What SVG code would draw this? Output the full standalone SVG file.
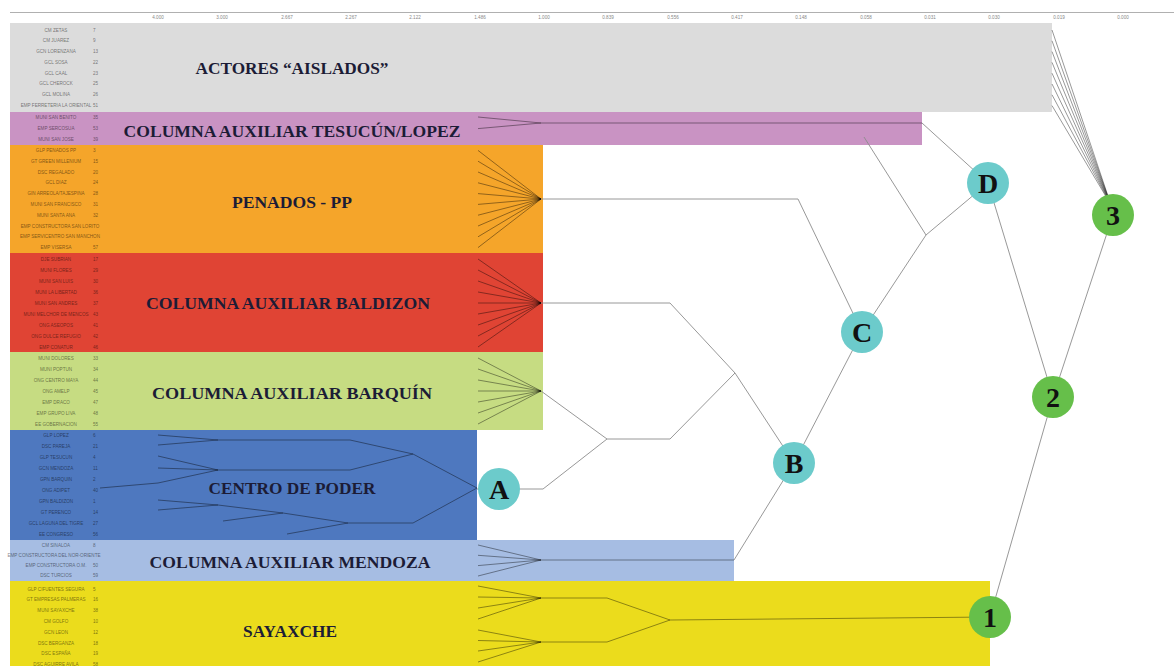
<svg xmlns="http://www.w3.org/2000/svg" width="1174" height="666" viewBox="0 0 1174 666">
<style>
.lbl{font-family:"Liberation Sans",Arial,sans-serif;font-size:4.6px;fill:#000;fill-opacity:0.5;text-anchor:middle}
.num{font-family:"Liberation Sans",Arial,sans-serif;font-size:4.6px;fill:#000;fill-opacity:0.5}
.tick{font-family:"Liberation Sans",Arial,sans-serif;font-size:4.6px;fill:#888;text-anchor:middle}
.title{font-family:"Liberation Serif","Times New Roman",serif;font-size:17px;font-weight:bold;fill:#1c1c36;text-anchor:middle}
.fan{stroke:#000;stroke-opacity:0.45;stroke-width:0.9;fill:none}
.con{stroke:#8c8c8c;stroke-width:0.9;fill:none}
.teal{fill:#6ccbcb}
.grn{fill:#66bf4a}
.let{font-family:"Liberation Serif","Times New Roman",serif;font-size:28px;font-weight:bold;fill:#111;text-anchor:middle}
</style>
<rect width="1174" height="666" fill="#fff"/>
<!-- axis -->
<g id="axis">
<line x1="10" y1="12.5" x2="1174" y2="12.5" stroke="#b0b0b0" stroke-width="1"/>
<text class="tick" x="158" y="19">4.000</text>
<text class="tick" x="222" y="19">3.000</text>
<text class="tick" x="287" y="19">2.667</text>
<text class="tick" x="351" y="19">2.267</text>
<text class="tick" x="415" y="19">2.122</text>
<text class="tick" x="480" y="19">1.486</text>
<text class="tick" x="544" y="19">1.000</text>
<text class="tick" x="608" y="19">0.839</text>
<text class="tick" x="673" y="19">0.556</text>
<text class="tick" x="737" y="19">0.417</text>
<text class="tick" x="801" y="19">0.148</text>
<text class="tick" x="866" y="19">0.058</text>
<text class="tick" x="930" y="19">0.031</text>
<text class="tick" x="994" y="19">0.030</text>
<text class="tick" x="1059" y="19">0.019</text>
<text class="tick" x="1123" y="19">0.000</text>
</g>
<!-- bands -->
<g id="band-aislados">
<rect x="10" y="23" width="1042" height="89" fill="#dcdcdc"/>
<text class="title" x="292" y="74" textLength="193" lengthAdjust="spacingAndGlyphs">ACTORES “AISLADOS”</text>
<text class="lbl" x="56" y="31.5">CM ZETAS</text><text class="num" x="93" y="31.5">7</text>
<text class="lbl" x="56" y="42.3">CM JUAREZ</text><text class="num" x="93" y="42.3">9</text>
<text class="lbl" x="56" y="53">GCN LORENZANA</text><text class="num" x="93" y="53">13</text>
<text class="lbl" x="56" y="63.8">GCL SOSA</text><text class="num" x="93" y="63.8">22</text>
<text class="lbl" x="56" y="74.5">GCL CAAL</text><text class="num" x="93" y="74.5">23</text>
<text class="lbl" x="56" y="85.3">GCL CHEROCK</text><text class="num" x="93" y="85.3">25</text>
<text class="lbl" x="56" y="96">GCL MOLINA</text><text class="num" x="93" y="96">26</text>
<text class="lbl" x="56" y="106.8">EMP FERRETERIA LA ORIENTAL</text><text class="num" x="93" y="106.8">51</text>
</g>
<g id="band-tesucun">
<rect x="10" y="112" width="912" height="33" fill="#c993c3"/>
<text class="title" x="292" y="137" textLength="337" lengthAdjust="spacingAndGlyphs">COLUMNA AUXILIAR TESUCÚN/LOPEZ</text>
<text class="lbl" x="56" y="119">MUNI SAN BENITO</text><text class="num" x="93" y="119">35</text>
<text class="lbl" x="56" y="130">EMP SERCOSUA</text><text class="num" x="93" y="130">53</text>
<text class="lbl" x="56" y="141">MUNI SAN JOSE</text><text class="num" x="93" y="141">39</text>
</g>
<g id="band-penados">
<rect x="10" y="145" width="533" height="108" fill="#f5a52a"/>
<text class="title" x="292" y="208" textLength="120" lengthAdjust="spacingAndGlyphs">PENADOS - PP</text>
<text class="lbl" x="56" y="152">GLP PENADOS PP</text><text class="num" x="93" y="152">3</text>
<text class="lbl" x="56" y="162.8">GT GREEN MILLENIUM</text><text class="num" x="93" y="162.8">15</text>
<text class="lbl" x="56" y="173.6">DSC REGALADO</text><text class="num" x="93" y="173.6">20</text>
<text class="lbl" x="56" y="184.4">GCL DIAZ</text><text class="num" x="93" y="184.4">24</text>
<text class="lbl" x="56" y="195.2">GIN ARREOLA/TAJESPINA</text><text class="num" x="93" y="195.2">28</text>
<text class="lbl" x="56" y="206">MUNI SAN FRANCISCO</text><text class="num" x="93" y="206">31</text>
<text class="lbl" x="56" y="216.8">MUNI SANTA ANA</text><text class="num" x="93" y="216.8">32</text>
<text class="lbl" x="60" y="227.6">EMP CONSTRUCTORA SAN LORITO</text>
<text class="lbl" x="60" y="238.4">EMP SERVICENTRO SAN MANCHON</text>
<text class="lbl" x="56" y="249.2">EMP VISERSA</text><text class="num" x="93" y="249.2">57</text>
</g>
<g id="band-baldizon">
<rect x="10" y="253" width="533" height="99" fill="#e04434"/>
<text class="title" x="288" y="309" textLength="284" lengthAdjust="spacingAndGlyphs">COLUMNA AUXILIAR BALDIZON</text>
<text class="lbl" x="56" y="260.5">DJE SUBRIAN</text><text class="num" x="93" y="260.5">17</text>
<text class="lbl" x="56" y="271.5">MUNI FLORES</text><text class="num" x="93" y="271.5">29</text>
<text class="lbl" x="56" y="282.5">MUNI SAN LUIS</text><text class="num" x="93" y="282.5">30</text>
<text class="lbl" x="56" y="293.5">MUNI LA LIBERTAD</text><text class="num" x="93" y="293.5">36</text>
<text class="lbl" x="56" y="304.5">MUNI SAN ANDRES</text><text class="num" x="93" y="304.5">37</text>
<text class="lbl" x="56" y="315.5">MUNI MELCHOR DE MENCOS</text><text class="num" x="93" y="315.5">43</text>
<text class="lbl" x="56" y="326.5">ONG ASEOPOS</text><text class="num" x="93" y="326.5">41</text>
<text class="lbl" x="56" y="337.5">ONG DULCE REFUGIO</text><text class="num" x="93" y="337.5">42</text>
<text class="lbl" x="56" y="348.5">EMP CONATUR</text><text class="num" x="93" y="348.5">46</text>
</g>
<g id="band-barquin">
<rect x="10" y="352" width="533" height="78" fill="#c6dc82"/>
<text class="title" x="292" y="399" textLength="280" lengthAdjust="spacingAndGlyphs">COLUMNA AUXILIAR BARQUÍN</text>
<text class="lbl" x="56" y="359.5">MUNI DOLORES</text><text class="num" x="93" y="359.5">33</text>
<text class="lbl" x="56" y="370.5">MUNI POPTUN</text><text class="num" x="93" y="370.5">34</text>
<text class="lbl" x="56" y="381.5">ONG CENTRO MAYA</text><text class="num" x="93" y="381.5">44</text>
<text class="lbl" x="56" y="392.5">ONG AMELP</text><text class="num" x="93" y="392.5">45</text>
<text class="lbl" x="56" y="403.5">EMP DRACO</text><text class="num" x="93" y="403.5">47</text>
<text class="lbl" x="56" y="414.5">EMP GRUPO LIVA</text><text class="num" x="93" y="414.5">48</text>
<text class="lbl" x="56" y="425.5">EE GOBERNACION</text><text class="num" x="93" y="425.5">55</text>
</g>
<g id="band-centro">
<rect x="10" y="430" width="467" height="110" fill="#4e78bf"/>
<text class="title" x="292" y="494" textLength="167" lengthAdjust="spacingAndGlyphs">CENTRO DE PODER</text>
<text class="lbl" x="56" y="436.5">GLP LOPEZ</text><text class="num" x="93" y="436.5">6</text>
<text class="lbl" x="56" y="447.5">DSC PAREJA</text><text class="num" x="93" y="447.5">21</text>
<text class="lbl" x="56" y="458.5">GLP TESUCUN</text><text class="num" x="93" y="458.5">4</text>
<text class="lbl" x="56" y="469.5">GCN MENDOZA</text><text class="num" x="93" y="469.5">11</text>
<text class="lbl" x="56" y="480.5">GPN BARQUIN</text><text class="num" x="93" y="480.5">2</text>
<text class="lbl" x="56" y="491.5">ONG ADIPET</text><text class="num" x="93" y="491.5">40</text>
<text class="lbl" x="56" y="502.5">GPN BALDIZON</text><text class="num" x="93" y="502.5">1</text>
<text class="lbl" x="56" y="513.5">GT PERENCO</text><text class="num" x="93" y="513.5">14</text>
<text class="lbl" x="56" y="524.5">GCL LAGUNA DEL TIGRE</text><text class="num" x="93" y="524.5">27</text>
<text class="lbl" x="56" y="535.5">EE CONGRESO</text><text class="num" x="93" y="535.5">56</text>
</g>
<g id="band-mendoza">
<rect x="10" y="540" width="724" height="41" fill="#a6bde3"/>
<text class="title" x="290" y="568" textLength="281" lengthAdjust="spacingAndGlyphs">COLUMNA AUXILIAR MENDOZA</text>
<text class="lbl" x="56" y="546.5">CM SINALOA</text><text class="num" x="93" y="546.5">8</text>
<text class="lbl" x="54" y="556.8">EMP CONSTRUCTORA DEL NOR-ORIENTE</text>
<text class="lbl" x="56" y="567.1">EMP CONSTRUCTORA O.M.</text><text class="num" x="93" y="567.1">50</text>
<text class="lbl" x="56" y="577.4">DSC TURCIOS</text><text class="num" x="93" y="577.4">59</text>
</g>
<g id="band-sayaxche">
<rect x="10" y="581" width="980" height="85" fill="#ebdc1c"/>
<text class="title" x="290" y="637" textLength="94" lengthAdjust="spacingAndGlyphs">SAYAXCHE</text>
<text class="lbl" x="56" y="590.5">GLP CIFUENTES SEGURA</text><text class="num" x="93" y="590.5">5</text>
<text class="lbl" x="56" y="601.3">GT EMPRESAS PALMERAS</text><text class="num" x="93" y="601.3">16</text>
<text class="lbl" x="56" y="612.1">MUNI SAYAXCHE</text><text class="num" x="93" y="612.1">38</text>
<text class="lbl" x="56" y="622.9">CM GOLFO</text><text class="num" x="93" y="622.9">10</text>
<text class="lbl" x="56" y="633.7">GCN LEON</text><text class="num" x="93" y="633.7">12</text>
<text class="lbl" x="56" y="644.5">DSC BERGANZA</text><text class="num" x="93" y="644.5">18</text>
<text class="lbl" x="56" y="655.3">DSC ESPAÑA</text><text class="num" x="93" y="655.3">19</text>
<text class="lbl" x="56" y="666.1">DSC AGUIRRE AVILA</text><text class="num" x="93" y="666.1">58</text>
</g>
<!-- connectors -->
<g id="connectors">
<!-- gray fan to 3 -->
<path class="fan" d="M1052 30 L1111 205 M1052 40.8 L1111 205 M1052 51.6 L1111 205 M1052 62.4 L1111 205 M1052 73.2 L1111 205 M1052 84 L1111 205 M1052 94.8 L1111 205 M1052 105.6 L1111 205"/>
<!-- purple -->
<path class="fan" d="M478 117 L541 123 M478 128.6 L541 123 M541 123 L922 123"/>
<path class="con" d="M922 123 L988 183 M864 137 L926 235 L988 183"/>
<!-- orange fan -->
<path class="fan" d="M478 150.4 L541 199 M478 161.2 L541 199 M478 172 L541 199 M478 182.8 L541 199 M478 193.6 L541 199 M478 204.4 L541 199 M478 215.2 L541 199 M478 226 L541 199 M478 236.8 L541 199 M478 247.6 L541 199"/>
<path class="con" d="M541 199 L798 199 L862 332"/>
<!-- red fan -->
<path class="fan" d="M478 259 L541 303 M478 270 L541 303 M478 281 L541 303 M478 292 L541 303 M478 303 L541 303 M478 314 L541 303 M478 325 L541 303 M478 336 L541 303 M478 347 L541 303"/>
<path class="con" d="M541 303 L670 303 L735 373 L794 463"/>
<!-- green fan -->
<path class="fan" d="M478 358 L541 391 M478 369 L541 391 M478 380 L541 391 M478 391 L541 391 M478 402 L541 391 M478 413 L541 391 M478 424 L541 391"/>
<path class="con" d="M541 391 L607 439 L670 439 L735 373"/>
<!-- centro de poder -->
<path class="fan" d="M158 435 L218 440 M158 445 L218 440 M218 440 L350 440 L413 454 M158 456 L218 470 M158 468 L218 470 M100 488 L158 483 L218 470 M218 470 L350 470 L413 454 M413 454 L477 488 M158 500 L218 505 M158 510 L218 505 M218 505 L283 513 M223 521 L283 513 M283 513 L348 523 M287 534 L348 523 M348 523 L413 523 L477 488"/>
<path class="con" d="M477 489 L543 489 L607 439"/>
<!-- mendoza -->
<path class="fan" d="M478 545 L541 560 M478 555.3 L541 560 M478 565.6 L541 560 M478 576 L541 560 M541 560 L734 560"/>
<path class="con" d="M734 560 L794 463 L862 332 L926 235"/>
<!-- sayaxche -->
<path class="fan" d="M478 586 L541 598 M478 597 L541 598 M478 608 L541 598 M478 619 L541 598 M478 630 L541 642 M478 640.5 L541 642 M478 651 L541 642 M478 662 L541 642 M541 598 L607 598 L670 620 M541 642 L607 642 L670 620 M670 620 L990 617"/>
<!-- upper levels -->
<path class="con" d="M988 183 L1053 397 M1113 215 L1053 397 M1053 397 L990 617"/>
</g>
<!-- nodes -->
<g id="node-A"><circle class="teal" cx="499" cy="489" r="21"/><text class="let" x="499" y="499">A</text></g>
<g id="node-B"><circle class="teal" cx="794" cy="463" r="21"/><text class="let" x="794" y="473">B</text></g>
<g id="node-C"><circle class="teal" cx="862" cy="332" r="21"/><text class="let" x="862" y="342">C</text></g>
<g id="node-D"><circle class="teal" cx="988" cy="183" r="21"/><text class="let" x="988" y="193">D</text></g>
<g id="node-1"><circle class="grn" cx="990" cy="617" r="21"/><text class="let" x="990" y="627">1</text></g>
<g id="node-2"><circle class="grn" cx="1053" cy="397" r="21"/><text class="let" x="1053" y="407">2</text></g>
<g id="node-3"><circle class="grn" cx="1113" cy="215" r="21"/><text class="let" x="1113" y="225">3</text></g>
</svg>
